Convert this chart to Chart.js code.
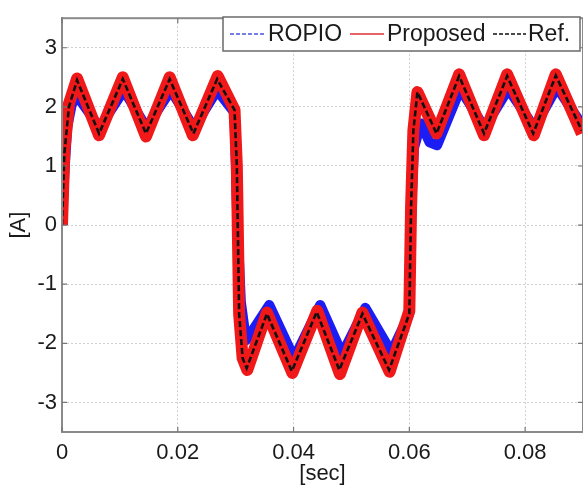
<!DOCTYPE html>
<html>
<head>
    <title>Current waveform</title>
    <style>
        html, body { margin: 0; padding: 0; background: #fff; }
        #wrap { width: 583px; height: 491px; }
    </style>
    <script src="https://cdn.jsdelivr.net/npm/chart.js"></script>
</head>
<body>
    <div id="wrap"><canvas id="chart" width="583" height="491"></canvas></div>

    <script>
        // Axis ticks
        const xTicks = [0, 0.02, 0.04, 0.06, 0.08];
        const yTicks = [-3, -2, -1, 0, 1, 2, 3];

        // Ref. (black dashed) - vertices
        const refT = [0, 0.0004, 0.0012, 0.0026, 0.0064, 0.0105, 0.0145, 0.0186, 0.0227, 0.0268, 0.0298,
                      0.0302, 0.0306, 0.0312, 0.0319, 0.0354, 0.0397, 0.0440, 0.0479, 0.0519, 0.0565, 0.0600,
                      0.0603, 0.0607, 0.0614, 0.0647, 0.0686, 0.0729, 0.0769, 0.0814, 0.0853, 0.0898];
        const refA = [0, 1.2, 2.0, 2.45, 1.55, 2.47, 1.55, 2.47, 1.55, 2.47, 1.95,
                      1.0, -1.5, -2.25, -2.42, -1.5, -2.47, -1.47, -2.45, -1.5, -2.45, -1.5,
                      0.3, 1.6, 2.25, 1.55, 2.52, 1.55, 2.52, 1.55, 2.53, 1.6];

        // Proposed (red)
        const propT = [0, 0.0004, 0.0012, 0.0026, 0.0064, 0.0105, 0.0145, 0.0186, 0.0226, 0.0269, 0.0298,
                       0.0302, 0.0306, 0.0312, 0.0320, 0.0354, 0.0398, 0.0441, 0.0480, 0.0519, 0.0566, 0.0600,
                       0.0603, 0.0607, 0.0614, 0.0647, 0.0686, 0.0729, 0.0769, 0.0815, 0.0853, 0.0898];
        const propA = [0, 1.25, 2.05, 2.48, 1.52, 2.5, 1.5, 2.5, 1.52, 2.52, 1.95,
                       1.0, -1.5, -2.25, -2.45, -1.48, -2.5, -1.45, -2.52, -1.48, -2.48, -1.45,
                       0.3, 1.6, 2.25, 1.55, 2.55, 1.52, 2.55, 1.52, 2.55, 1.55];

        // ROPIO (blue)
        const ropT = [0, 0.0004, 0.0009, 0.0017, 0.0027, 0.0065, 0.0107, 0.0146, 0.0188, 0.0228, 0.0268, 0.0298,
                      0.0303, 0.0309, 0.0318, 0.0358, 0.0401, 0.0446, 0.0484, 0.0524, 0.0569, 0.0600,
                      0.0603, 0.0608, 0.0620, 0.0635, 0.0648, 0.0688, 0.0730, 0.0771, 0.0816, 0.0855, 0.0898];
        const ropA = [0, 0.85, 1.65, 2.05, 2.17, 1.65, 2.28, 1.65, 2.28, 1.65, 2.28, 1.9,
                      0.0, -1.3, -1.95, -1.35, -2.25, -1.35, -2.18, -1.4, -2.15, -1.5,
                      0.2, 1.3, 1.72, 1.4, 1.35, 2.3, 1.65, 2.3, 1.65, 2.33, 1.7];

        function toPoints(t, a) {
            return t.map((v, i) => ({x: v, y: a[i]}));
        }

        const FONT = 'Liberation Sans, Arial, Helvetica, sans-serif';

        // Frame, inward ticks and boxed legend
        const framePlugin = {
            id: 'frame',
            afterDraw(chart) {
                const ctx = chart.ctx;
                const a = chart.chartArea;
                const xs = chart.scales.x, ys = chart.scales.y;
                ctx.save();
                ctx.strokeStyle = '#8a8a8a';
                ctx.lineWidth = 2;
                ctx.strokeRect(a.left, a.top, a.right - a.left, a.bottom - a.top);
                ctx.strokeStyle = '#777';
                ctx.lineWidth = 1.2;
                ctx.beginPath();
                xTicks.forEach(v => {
                    const px = xs.getPixelForValue(v);
                    ctx.moveTo(px, a.bottom); ctx.lineTo(px, a.bottom - 5);
                    ctx.moveTo(px, a.top); ctx.lineTo(px, a.top + 5);
                });
                yTicks.forEach(v => {
                    const py = ys.getPixelForValue(v);
                    ctx.moveTo(a.left, py); ctx.lineTo(a.left + 5, py);
                    ctx.moveTo(a.right, py); ctx.lineTo(a.right - 5, py);
                });
                ctx.stroke();

                // legend box
                ctx.fillStyle = '#fff';
                ctx.fillRect(223, 17, 357, 34);
                ctx.strokeStyle = '#6a6a6a';
                ctx.lineWidth = 1.5;
                ctx.strokeRect(223, 17, 357, 34);

                const ly = 34;
                const items = [
                    {x1: 230, x2: 264, color: '#4a55e0', dash: [4, 2], text: 'ROPIO', tx: 268},
                    {x1: 350, x2: 384, color: '#e03030', dash: [], text: 'Proposed', tx: 387},
                    {x1: 493, x2: 526, color: '#111', dash: [4, 2], text: 'Ref.', tx: 528}
                ];
                ctx.font = '23px ' + FONT;
                ctx.textBaseline = 'middle';
                items.forEach(it => {
                    ctx.strokeStyle = it.color;
                    ctx.lineWidth = 1.6;
                    ctx.setLineDash(it.dash);
                    ctx.beginPath();
                    ctx.moveTo(it.x1, ly); ctx.lineTo(it.x2, ly);
                    ctx.stroke();
                    ctx.setLineDash([]);
                    ctx.fillStyle = '#1a1a1a';
                    ctx.fillText(it.text, it.tx, ly + 1);
                });
                ctx.restore();
            }
        };

        const ctx = document.getElementById('chart').getContext('2d');
        new Chart(ctx, {
            type: 'line',
            data: {
                datasets: [
                    {
                        label: 'Ref.',
                        data: toPoints(refT, refA),
                        borderColor: '#111',
                        borderWidth: 2.6,
                        borderDash: [6, 3],
                        order: 0
                    },
                    {
                        label: 'Proposed',
                        data: toPoints(propT, propA),
                        borderColor: '#f01818',
                        borderWidth: 12,
                        borderJoinStyle: 'round',
                        order: 1
                    },
                    {
                        label: 'ROPIO',
                        data: toPoints(ropT, ropA),
                        borderColor: '#1c1cf5',
                        borderWidth: 10,
                        borderJoinStyle: 'round',
                        order: 2
                    }
                ]
            },
            options: {
                responsive: false,
                animation: false,
                parsing: false,
                layout: { padding: { top: 12, right: 0, left: 0, bottom: 0 } },
                elements: {
                    point: { radius: 0 },
                    line: { tension: 0, fill: false }
                },
                plugins: {
                    legend: { display: false },
                    tooltip: { enabled: false }
                },
                scales: {
                    x: {
                        type: 'linear',
                        min: 0,
                        max: 0.09,
                        afterBuildTicks: s => { s.ticks = xTicks.map(v => ({value: v})); },
                        afterFit: s => { s.height = 59; },
                        ticks: {
                            padding: 8,
                            color: '#1a1a1a',
                            font: { family: FONT, size: 22 },
                            maxRotation: 0,
                            callback: v => v === 0 ? '0' : v.toFixed(2)
                        },
                        grid: { color: '#cfcfcf', lineWidth: 1, drawTicks: false },
                        border: { display: true, color: '#8a8a8a', width: 2, dash: [2, 2] },
                        title: {
                            display: true,
                            text: '[sec]',
                            color: '#1a1a1a',
                            font: { family: FONT, size: 22 },
                            padding: { top: 0, bottom: 4 }
                        }
                    },
                    y: {
                        type: 'linear',
                        min: -3.5,
                        max: 3.5,
                        afterBuildTicks: s => { s.ticks = yTicks.map(v => ({value: v})); },
                        afterFit: s => { s.width = 62; },
                        ticks: {
                            padding: 5,
                            color: '#1a1a1a',
                            font: { family: FONT, size: 22 },
                            callback: v => String(v)
                        },
                        grid: { color: '#cfcfcf', lineWidth: 1, drawTicks: false },
                        border: { display: true, color: '#8a8a8a', width: 2, dash: [2, 2] },
                        title: {
                            display: true,
                            text: '[A]',
                            color: '#1a1a1a',
                            font: { family: FONT, size: 22 },
                            padding: { top: 6, bottom: 0 }
                        }
                    }
                }
            },
            plugins: [framePlugin]
        });
    </script>
</body>
</html>
